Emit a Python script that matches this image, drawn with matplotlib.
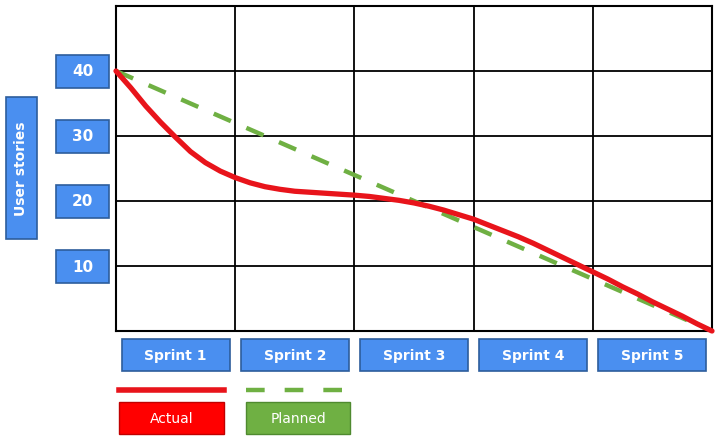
import numpy as np
import matplotlib
matplotlib.use("Agg")
import matplotlib.pyplot as plt
from matplotlib.patches import Rectangle
from matplotlib.transforms import blended_transform_factory

# data
sprints = ["Sprint 1", "Sprint 2", "Sprint 3", "Sprint 4", "Sprint 5"]
yticks = [10, 20, 30, 40]
actual_x = [0, 0.125, 0.25, 0.375, 0.5, 0.625, 0.75, 0.875, 1.0, 1.125, 1.25, 1.375, 1.5,
            1.75, 2.0, 2.125, 2.25, 2.375, 2.5, 2.625, 2.75, 2.875, 3.0, 3.125, 3.25,
            3.375, 3.5, 3.625, 3.75, 3.875, 4.0, 4.125, 4.25, 4.375, 4.5, 4.625, 4.75,
            4.875, 5.0]
actual_y = [40, 37.4, 34.6, 32.1, 29.8, 27.6, 25.9, 24.6, 23.6, 22.8, 22.2, 21.8, 21.5,
            21.2, 20.9, 20.7, 20.4, 20.1, 19.7, 19.2, 18.6, 17.9, 17.2, 16.3, 15.4,
            14.5, 13.5, 12.4, 11.3, 10.2, 9.1, 8.0, 6.8, 5.7, 4.5, 3.4, 2.3,
            1.1, 0]
planned_x = [0, 5]
planned_y = [40, 0]

W, H = 717, 439
blue = "#4a8ff0"
blue_edge = "#2d5d9c"
red = "#e8141b"
green = "#6fb043"

fig = plt.figure(figsize=(W / 100, H / 100), dpi=100)
ax = fig.add_axes([116 / W, 1 - 332 / H, 596 / W, 325 / H])
ax.set_xlim(0, 5)
ax.set_ylim(0, 50)
for v in range(1, 5):
    ax.axvline(v, color="black", lw=1.3, zorder=1)
for v in yticks:
    ax.axhline(v, color="black", lw=1.3, zorder=1)
for s in ax.spines.values():
    s.set_linewidth(1.5)
ax.set_xticks([])
ax.set_yticks([])

ax.plot(planned_x, planned_y, color=green, lw=3.2, linestyle=(0, (4.2, 3.8)), zorder=2)
ax.plot(actual_x, actual_y, color=red, lw=3.8, solid_capstyle="round",
        solid_joinstyle="round", zorder=3, clip_on=False)

def px(x):
    return x / W

def py(y):
    return 1 - y / H

# y tick boxes (x in figure coords, y in data)
tr_y = blended_transform_factory(fig.transFigure, ax.transData)
bh = 33 / 325 * 50
for v in yticks:
    fig.add_artist(Rectangle((px(56), v - bh / 2), 53 / W, bh, transform=tr_y,
                             facecolor=blue, edgecolor=blue_edge, lw=1.2))
    fig.text(px(82.5), v, str(v), transform=tr_y, ha="center", va="center",
             color="white", fontsize=11, fontweight="bold")

# y axis title box
fig.add_artist(Rectangle((px(6), py(240)), 31 / W, 142 / H, transform=fig.transFigure,
                         facecolor=blue, edgecolor=blue_edge, lw=1.2))
fig.text(px(21.5), py(169), "User stories", rotation=90, ha="center", va="center",
         color="white", fontsize=10, fontweight="bold")

# sprint boxes (x in data, y in figure coords)
tr_x = blended_transform_factory(ax.transData, fig.transFigure)
bw = 108 / 596 * 5
for i, s in enumerate(sprints):
    c = i + 0.5
    fig.add_artist(Rectangle((c - bw / 2, py(372)), bw, 32 / H, transform=tr_x,
                             facecolor=blue, edgecolor=blue_edge, lw=1.2))
    fig.text(c, py(356), s, transform=tr_x, ha="center", va="center",
             color="white", fontsize=10, fontweight="bold")

# legend
fig.add_artist(plt.Line2D([px(119), px(224)], [py(391), py(391)], transform=fig.transFigure,
                          color=red, lw=4))
fig.add_artist(plt.Line2D([px(246), px(343)], [py(391), py(391)], transform=fig.transFigure,
                          color=green, lw=3.2, linestyle=(0, (4.2, 4.5))))
fig.add_artist(Rectangle((px(119), py(435)), 105 / W, 32 / H, transform=fig.transFigure,
                         facecolor="#ff0000", edgecolor="#c00000", lw=1.0))
fig.text(px(171.5), py(419), "Actual", ha="center", va="center", color="white", fontsize=10)
fig.add_artist(Rectangle((px(246), py(435)), 104 / W, 32 / H, transform=fig.transFigure,
                         facecolor=green, edgecolor="#4f8a2f", lw=1.0))
fig.text(px(298), py(419), "Planned", ha="center", va="center", color="white", fontsize=10)

fig.savefig("out.png", dpi=100)
